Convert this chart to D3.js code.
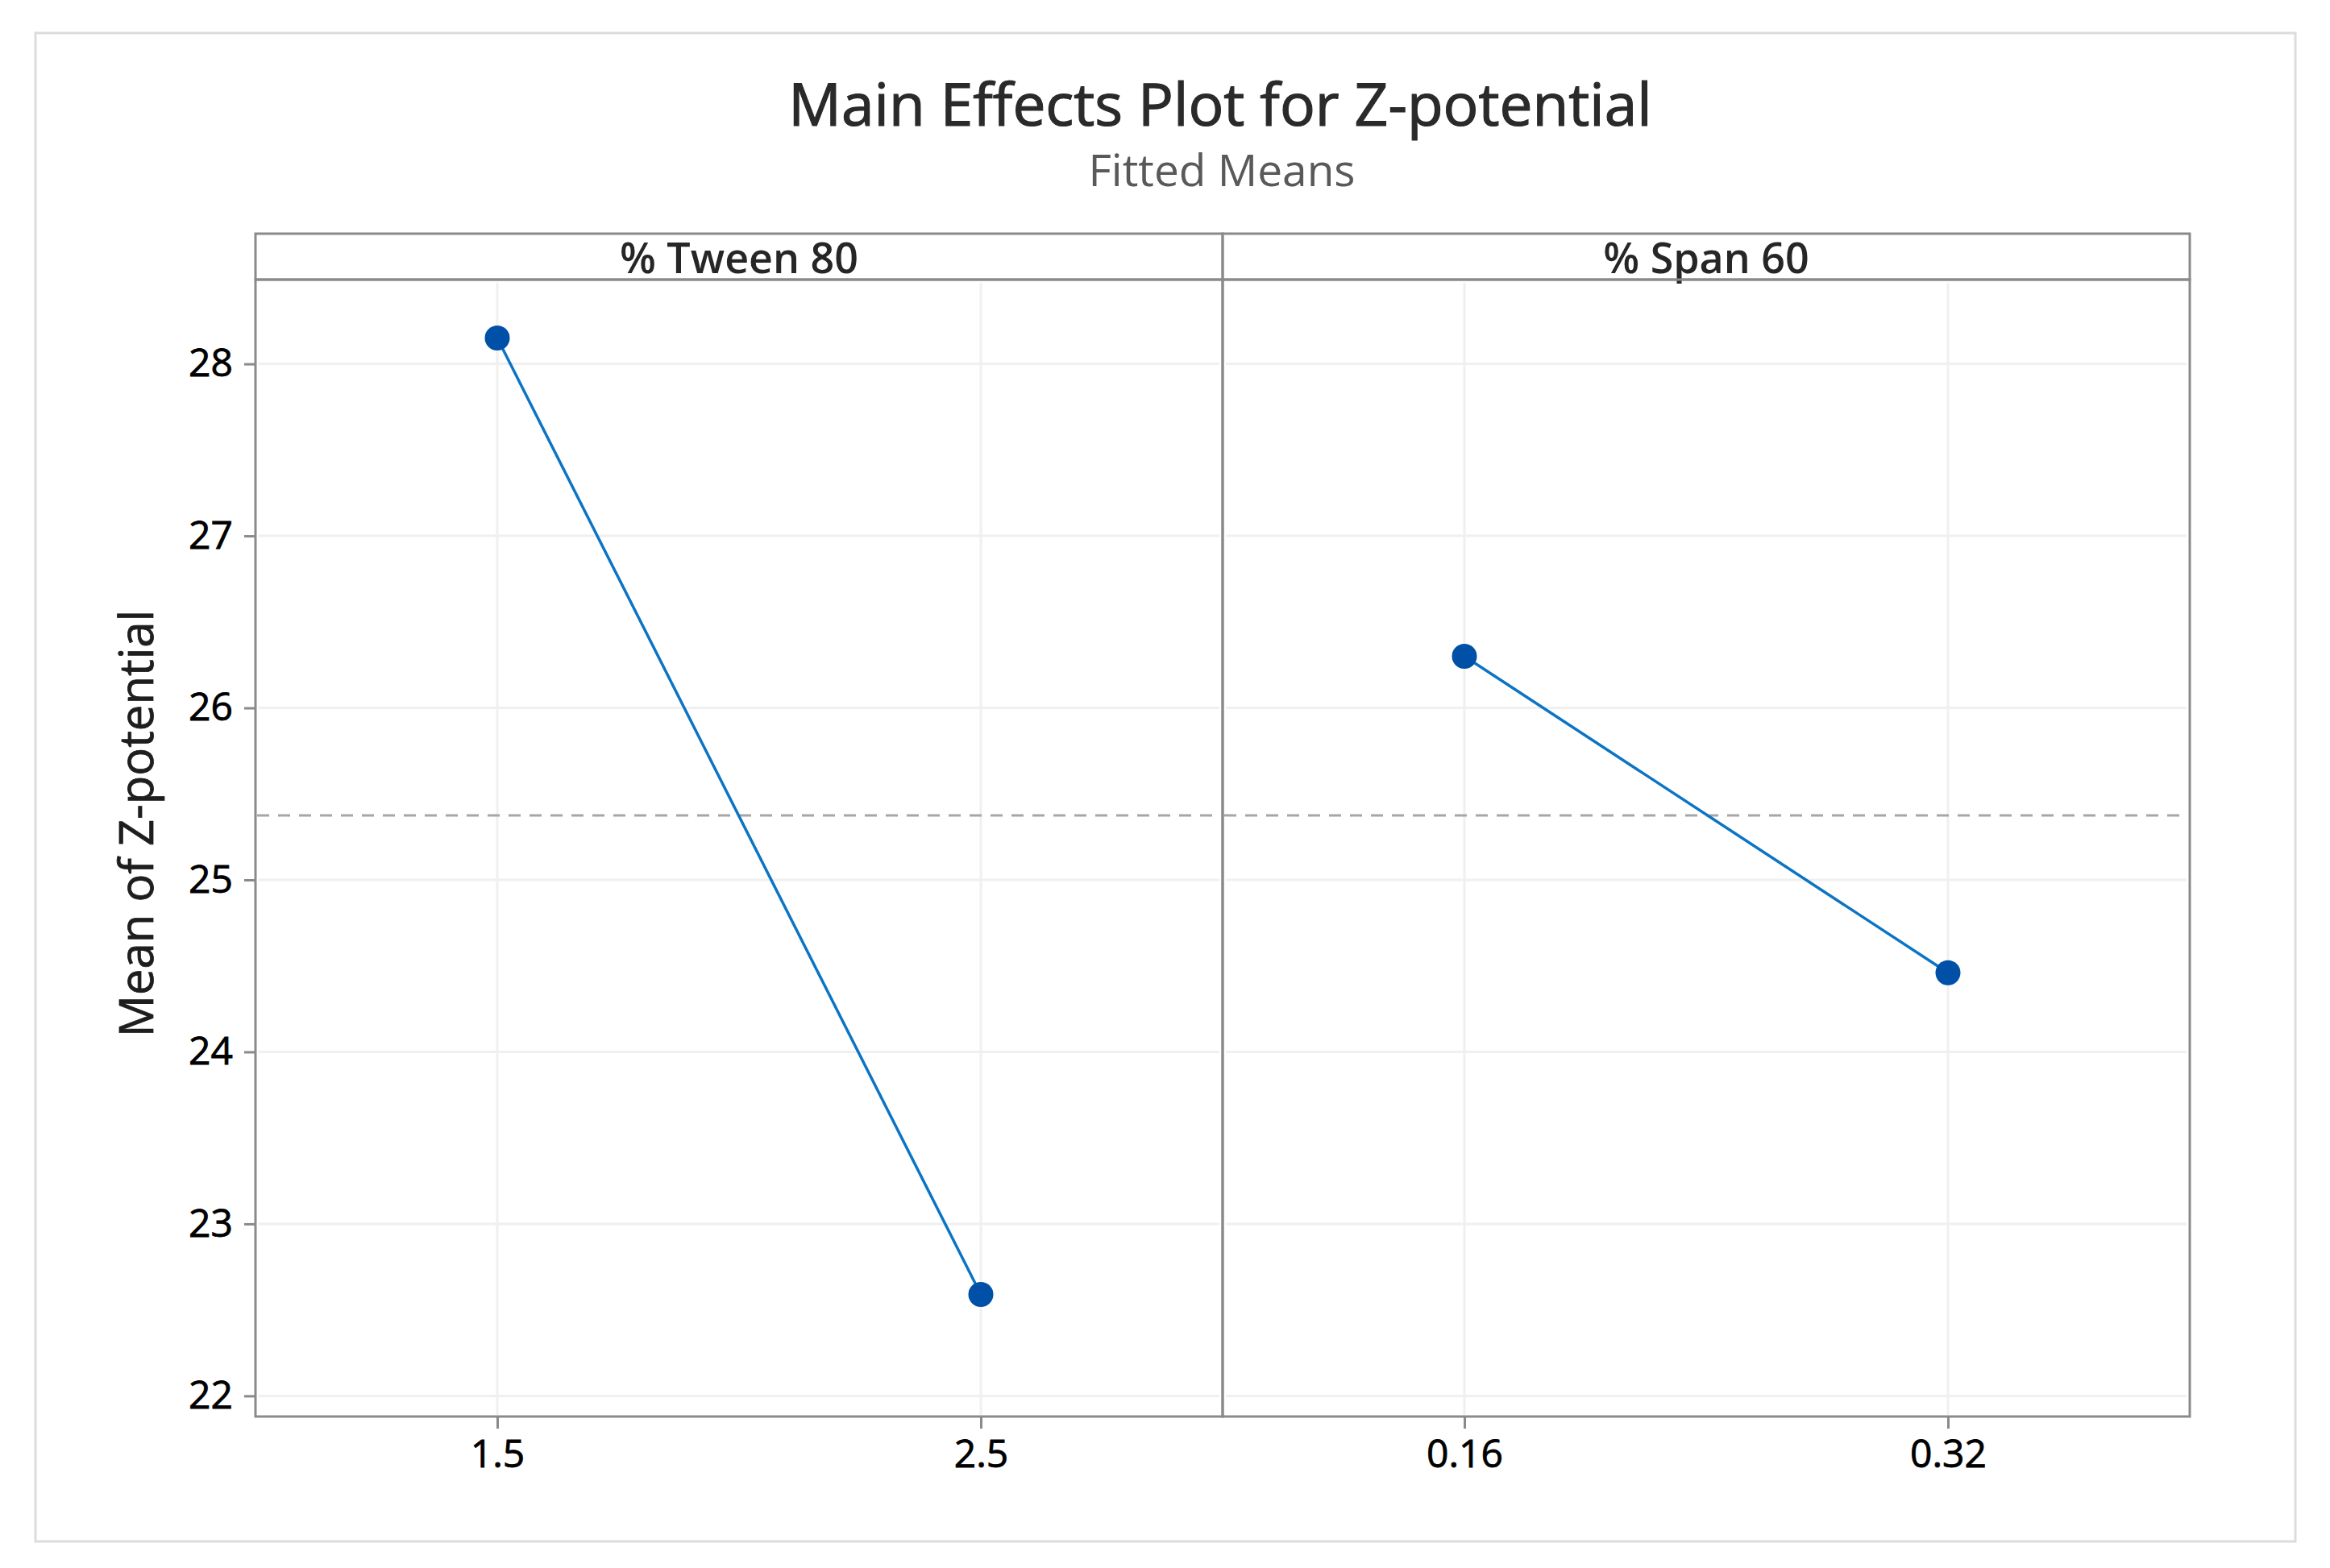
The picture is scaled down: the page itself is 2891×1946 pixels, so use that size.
<!DOCTYPE html>
<html>
<head>
<meta charset="utf-8">
<script src="https://cdn.jsdelivr.net/npm/d3@7/dist/d3.min.js"></script>
<style>
  html, body { margin: 0; padding: 0; background: #fff; }
  svg { display: block; }
  text { font-family: "Open Sans", "Noto Sans", sans-serif; }
</style>
</head>
<body>
<svg id="chart" width="2891" height="1946"></svg>
<script>
// ---- Data ----
const chartTitle = "Main Effects Plot for Z-potential";
const chartSubtitle = "Fitted Means";
const yLabel = "Mean of Z-potential";
const factorNames = ["% Tween 80", "% Span 60"];
const tweenLevels = [1.5, 2.5];
const tweenMeans = [28.15, 22.59];
const spanLevels = [0.16, 0.32];
const spanMeans = [26.30, 24.46];
const yTicks = [22, 23, 24, 25, 26, 27, 28];
const overallMean = 25.375;

// ---- Layout ----
const W = 2891, H = 1946;
const plotLeft = 317, plotRight = 2717, stripTop = 290, stripBottom = 347, plotBottom = 1758;
const panelW = (plotRight - plotLeft) / 2;

const svg = d3.select("#chart");
svg.append("rect").attr("x", 0).attr("y", 0).attr("width", W).attr("height", H).attr("fill", "#fff");
// outer frame
svg.append("rect").attr("x", 44).attr("y", 41).attr("width", 2804).attr("height", 1872)
  .attr("fill", "none").attr("stroke", "#dcdcdc").attr("stroke-width", 3);

// titles
svg.append("text").attr("x", 1514).attr("y", 156).attr("text-anchor", "middle")
  .attr("font-size", 73).attr("fill", "#2a2a2a").attr("stroke", "#2a2a2a").attr("stroke-width", 1.2)
  .text(chartTitle);
svg.append("text").attr("x", 1516).attr("y", 231).attr("text-anchor", "middle")
  .attr("font-size", 55).attr("fill", "#595959").text(chartSubtitle);

const y = d3.scaleLinear().domain([21.88, 28.49]).range([plotBottom, stripBottom]);

const panels = [
  { name: factorNames[0], levels: tweenLevels, means: tweenMeans, domain: [1.0, 3.0] },
  { name: factorNames[1], levels: spanLevels, means: spanMeans, domain: [0.08, 0.40] }
];

panels.forEach((p, i) => {
  const x0 = plotLeft + i * panelW, x1 = x0 + panelW;
  const x = d3.scaleLinear().domain(p.domain).range([x0, x1]);
  const g = svg.append("g");

  // horizontal gridlines
  g.selectAll("line.hg").data(yTicks).join("line")
    .attr("x1", x0 + 4).attr("x2", x1 - 4)
    .attr("y1", d => y(d)).attr("y2", d => y(d))
    .attr("stroke", "#f0f0f0").attr("stroke-width", 3);
  // vertical gridlines
  g.selectAll("line.vg").data(p.levels).join("line")
    .attr("x1", d => x(d)).attr("x2", d => x(d))
    .attr("y1", stripBottom + 4).attr("y2", plotBottom - 2)
    .attr("stroke", "#f0f0f0").attr("stroke-width", 3);

  // mean reference line
  g.append("line").attr("x1", x0 + 2).attr("x2", x1 - 2)
    .attr("y1", y(overallMean)).attr("y2", y(overallMean))
    .attr("stroke", "#a6a6a6").attr("stroke-width", 3).attr("stroke-dasharray", "15,11");

  // series
  const pts = p.levels.map((l, k) => [l, p.means[k]]);
  g.append("path").datum(pts)
    .attr("d", d3.line().x(d => x(d[0])).y(d => y(d[1])))
    .attr("fill", "none").attr("stroke", "#0b74c4").attr("stroke-width", 3.5);
  g.selectAll("circle").data(pts).join("circle")
    .attr("cx", d => x(d[0])).attr("cy", d => y(d[1])).attr("r", 15.5)
    .attr("fill", "#0050a8");

  // strip
  g.append("rect").attr("x", x0).attr("y", stripTop).attr("width", panelW).attr("height", stripBottom - stripTop)
    .attr("fill", "none").attr("stroke", "#8a8a8a").attr("stroke-width", 3);
  g.append("text").attr("x", (x0 + x1) / 2).attr("y", 339).attr("text-anchor", "middle")
    .attr("font-size", 52).attr("font-weight", 600).attr("fill", "#262626").text(p.name);

  // panel border
  g.append("rect").attr("x", x0).attr("y", stripBottom).attr("width", panelW).attr("height", plotBottom - stripBottom)
    .attr("fill", "none").attr("stroke", "#8a8a8a").attr("stroke-width", 3);

  // x axis
  const ax = svg.append("g").attr("transform", `translate(0,${plotBottom})`)
    .call(d3.axisBottom(x).tickValues(p.levels).tickSize(15).tickPadding(14).tickFormat(d3.format("")));
  ax.select(".domain").remove();
  ax.selectAll(".tick line").attr("stroke", "#8a8a8a").attr("stroke-width", 3);
  ax.selectAll(".tick text").attr("font-size", 48).attr("fill", "#000")
    .attr("stroke", "#000").attr("stroke-width", 0.8)
    .attr("font-family", "'Open Sans', 'Noto Sans', sans-serif");
});

// y axis
const ay = svg.append("g").attr("transform", `translate(${plotLeft},0)`)
  .call(d3.axisLeft(y).tickValues(yTicks).tickSize(14).tickPadding(14).tickFormat(d3.format("d")));
ay.select(".domain").remove();
ay.selectAll(".tick line").attr("stroke", "#8a8a8a").attr("stroke-width", 3);
ay.selectAll(".tick text").attr("font-size", 48).attr("fill", "#000")
  .attr("stroke", "#000").attr("stroke-width", 0.8)
  .attr("font-family", "'Open Sans', 'Noto Sans', sans-serif");

// y label
svg.append("text").attr("transform", "translate(190,1022) rotate(-90)")
  .attr("text-anchor", "middle").attr("font-size", 58).attr("fill", "#1e1e1e")
  .attr("stroke", "#1e1e1e").attr("stroke-width", 0.8).text(yLabel);
</script>
</body>
</html>
